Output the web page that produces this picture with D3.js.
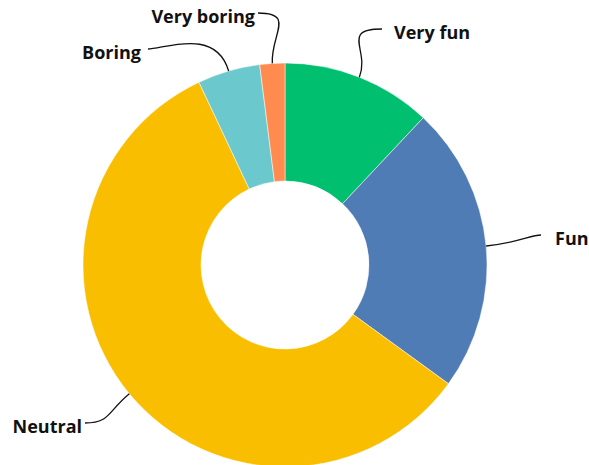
<!DOCTYPE html>
<html>
<head>
<meta charset="utf-8">
<script src="https://cdn.jsdelivr.net/npm/d3@7"></script>
<style>
  html, body { margin: 0; padding: 0; background: #fff; }
  svg { display: block; }
  .lbl { font-family: "Open Sans", Lato, sans-serif; font-weight: 700; font-size: 18px; fill: #111; }
</style>
</head>
<body>
<svg id="chart" width="589" height="465"></svg>
<script>
// Survey answers, share of respondents (%)
const categories = ["Very fun", "Fun", "Neutral", "Boring", "Very boring"];
const values = [12, 23, 58, 5, 2];
const colors = ["#00BF6F", "#507CB6", "#F9BE00", "#6BC8CD", "#FF8B4F"];

// Where each callout ends, where its text starts/ends, and which side it sits on
const calloutEnds = {
  "Very fun":    { x: 382, y: 29,  textX: 394, side: "right", elbow: 42 },
  "Fun":         { x: 541, y: 235, textX: 555, side: "right", elbow: 10 },
  "Neutral":     { x: 85,  y: 423, textX: 82,  side: "left",  elbow: 25 },
  "Boring":      { x: 148, y: 49,  textX: 141, side: "left",  elbow: 16 },
  "Very boring": { x: 258, y: 13,  textX: 255, side: "left",  elbow: 38 }
};

const width = 589, height = 465;
const cx = 285, cy = 265;
const outerR = 202, innerR = 84;

const svg = d3.select("#chart");
const g = svg.append("g").attr("transform", `translate(${cx},${cy})`);

const data = categories.map((c, i) => ({ category: c, value: values[i], color: colors[i] }));

const pie = d3.pie().value(d => d.value).sort(null);
const arc = d3.arc().innerRadius(innerR).outerRadius(outerR);
const arcs = pie(data);

g.selectAll("path.slice")
  .data(arcs)
  .join("path")
  .attr("class", "slice")
  .attr("d", arc)
  .attr("fill", d => d.data.color)
  .attr("stroke", "#fff")
  .attr("stroke-width", 0.5);

// Callout lines: leave the ring along the slice's middle angle, then bend toward the text
arcs.forEach(a => {
  const mid = (a.startAngle + a.endAngle) / 2;
  const sx = Math.sin(mid) * outerR, sy = -Math.cos(mid) * outerR;
  const end = calloutEnds[a.data.category];
  const ex = end.x - cx, ey = end.y - cy;
  const dist = Math.hypot(ex - sx, ey - sy);
  const c1x = sx + Math.sin(mid) * dist * 0.55, c1y = sy - Math.cos(mid) * dist * 0.55;
  const dir = end.side === "right" ? -1 : 1;
  const c2x = ex + dir * end.elbow, c2y = ey;
  const p = d3.path();
  p.moveTo(sx, sy);
  p.bezierCurveTo(c1x, c1y, c2x, c2y, ex, ey);
  g.append("path")
    .attr("d", p.toString())
    .attr("fill", "none")
    .attr("stroke", "#111")
    .attr("stroke-width", 1.3);

  g.append("text")
    .attr("class", "lbl")
    .attr("x", end.textX - cx)
    .attr("y", ey + 4)
    .attr("dy", "0.35em")
    .attr("text-anchor", end.side === "right" ? "start" : "end")
    .text(a.data.category);
});
</script>
</body>
</html>
